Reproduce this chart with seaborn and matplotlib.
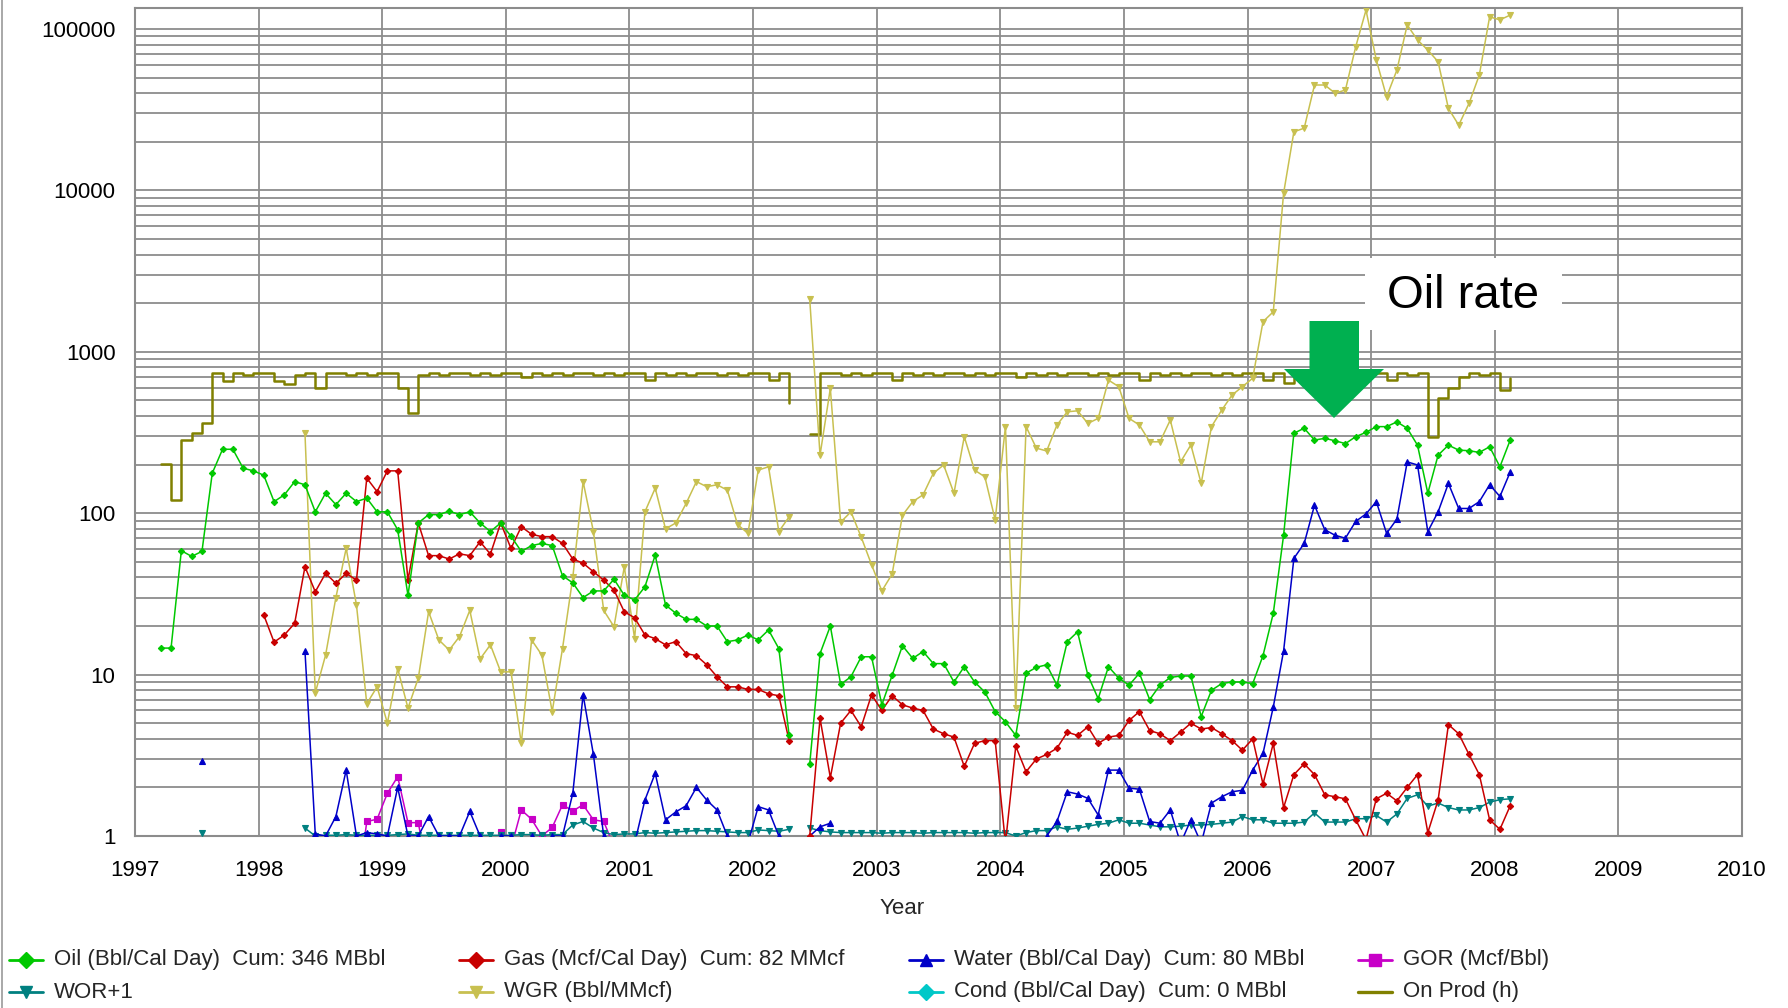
import numpy as np
import pandas as pd
import matplotlib
matplotlib.use("Agg")
import matplotlib.pyplot as plt
import seaborn as sns
from matplotlib.lines import Line2D
from matplotlib.patches import Polygon, Rectangle
from matplotlib.ticker import FixedLocator, FixedFormatter, NullFormatter, LogLocator

nan = np.nan

# One value per calendar month, Mar 1997 .. Feb 2008
months = pd.period_range("1997-03", "2008-02", freq="M")

oil_rate = [
    14.6, 14.6, 58.6, 54, 58, 177, 249, 249, 190, 183,                   # 1997
    172, 118, 130, 157, 150, 102, 133, 113, 133, 118, 124, 102,          # 1998
    102, 79, 31, 87, 98, 98, 103, 98, 102, 87, 77, 87,                   # 1999
    72, 58, 63, 65, 63, 41, 37, 30, 33, 33, 39, 31,                      # 2000
    29, 35, 55, 27, 24, 22, 22, 20, 20, 16, 16.4, 17.6,                  # 2001
    16.4, 18.9, 14.5, 4.2, nan, 2.8, 13.5, 20, 8.7, 9.7, 12.9, 12.9,     # 2002
    6.5, 9.9, 15.1, 12.6, 13.9, 11.7, 11.7, 9.0, 11.2, 9.0, 7.8, 5.9,    # 2003
    5.1, 4.2, 10.2, 11.1, 11.5, 8.6, 16, 18.4, 9.9, 7.1, 11.2, 9.5,      # 2004
    8.6, 10.2, 7.0, 8.6, 9.6, 9.8, 9.8, 5.5, 8.0, 8.8, 9.0, 9.0,         # 2005
    8.8, 13.1, 24, 73, 313, 336, 284, 291, 281, 270, 298, 317,           # 2006
    344, 344, 368, 336, 264, 133, 229, 264, 246, 244, 238, 258,          # 2007
    194, 284,                                                            # 2008
]

gas_rate = [
    nan, nan, nan, nan, nan, nan, nan, nan, nan, nan,
    23.4, 15.9, 17.6, 20.8, 46.6, 32.6, 42.4, 36.8, 42.4, 38.5, 165, 136,
    183, 183, 38.5, 87, 54.6, 54.6, 52, 56, 54.6, 66.5, 55.8, 87,
    60.5, 82.5, 74, 71.6, 71.6, 65, 52, 49, 43.4, 38.5, 33.4, 24.5,
    22.5, 17.6, 16.7, 15.3, 16, 13.5, 13.1, 11.5, 9.7, 8.4, 8.4, 8.1,
    8.1, 7.6, 7.4, 3.9, nan, 1.0, 5.35, 2.3, 5.0, 6.0, 4.75, 7.5,
    6.0, 7.4, 6.5, 6.2, 6.0, 4.6, 4.3, 4.1, 2.7, 3.75, 3.9, 3.9,
    0.9, 3.6, 2.5, 3.0, 3.2, 3.5, 4.4, 4.2, 4.75, 3.75, 4.1, 4.2,
    5.2, 5.9, 4.5, 4.3, 3.9, 4.4, 5.0, 4.6, 4.7, 4.3, 3.9, 3.4,
    4.0, 2.1, 3.75, 1.5, 2.4, 2.8, 2.4, 1.8, 1.75, 1.7, 1.26, 0.95,
    1.7, 1.84, 1.65, 2.0, 2.4, 1.05, 1.67, 4.9, 4.3, 3.2, 2.4, 1.26,
    1.1, 1.54,
]

water_rate = [
    nan, nan, nan, nan, 2.9, nan, nan, nan, nan, nan,
    nan, nan, nan, nan, 14, 1.03, 1.0, 1.32, 2.56, 1.0, 1.05, 1.03,
    1.0, 2.0, 1.0, 1.0, 1.32, 1.0, 1.0, 1.0, 1.42, 1.0, 0.95, 1.0,
    1.0, 0.95, 1.0, 0.9, 1.0, 1.0, 1.84, 7.5, 3.2, 1.0, 0.9, 0.9,
    0.9, 1.67, 2.45, 1.26, 1.41, 1.54, 2.0, 1.67, 1.45, 1.0, 0.9, 0.9,
    1.52, 1.45, 1.0, nan, nan, 1.0, 1.14, 1.2, nan, nan, nan, nan,
    nan, nan, nan, nan, nan, nan, nan, nan, nan, nan, nan, nan,
    nan, nan, nan, nan, 1.0, 1.23, 1.88, 1.82, 1.71, 1.35, 2.56, 2.56,
    1.98, 1.95, 1.23, 1.2, 1.45, 0.9, 1.26, 0.9, 1.6, 1.75, 1.88, 1.92,
    2.56, 3.25, 6.3, 14, 52.5, 65, 112, 79, 73, 70, 89, 99,
    118, 75, 92, 208, 199, 77, 102, 153, 107, 107, 118, 150,
    127, 180,
]

gor = [
    nan, nan, nan, nan, nan, nan, nan, nan, nan, nan,
    nan, nan, nan, nan, nan, nan, nan, nan, nan, 0.4, 1.23, 1.27,
    1.84, 2.33, 1.21, 1.21, 0.55, 0.56, 0.5, 0.57, 0.54, 0.76, 0.72, 1.06,
    0.84, 1.45, 1.27, 1.0, 1.13, 1.56, 1.43, 1.56, 1.26, 1.23, 0.86, 0.79,
    nan, nan, nan, nan, nan, nan, nan, nan, nan, nan, nan, nan,
    nan, nan, nan, nan, nan, nan, nan, nan, nan, nan, nan, nan,
    nan, nan, nan, nan, nan, nan, nan, nan, nan, nan, nan, nan,
    nan, nan, nan, nan, nan, nan, nan, nan, nan, nan, nan, nan,
    nan, nan, nan, nan, nan, nan, nan, nan, nan, nan, nan, nan,
    nan, nan, nan, nan, nan, nan, nan, nan, nan, nan, nan, nan,
    nan, nan, nan, nan, nan, nan, nan, nan, nan, nan, nan, nan,
    nan, nan,
]

wor_plus_1 = [
    nan, nan, nan, nan, 1.05, nan, nan, nan, nan, nan,
    nan, nan, nan, nan, 1.12, 1.0, 1.01, 1.01, 1.02, 1.01, 1.01, 1.01,
    1.01, 1.02, 1.03, 1.01, 1.01, 1.01, 1.01, 1.01, 1.01, 1.01, 1.01, 1.01,
    1.01, 1.02, 1.02, 1.01, 1.02, 1.02, 1.17, 1.23, 1.12, 1.05, 1.02, 1.03,
    1.03, 1.05, 1.04, 1.05, 1.06, 1.07, 1.08, 1.08, 1.07, 1.06, 1.05, 1.05,
    1.09, 1.08, 1.07, 1.1, nan, 1.12, 1.08, 1.06, 1.05, 1.05, 1.05, 1.05,
    1.04, 1.05, 1.05, 1.05, 1.04, 1.05, 1.05, 1.05, 1.05, 1.04, 1.05, 1.05,
    1.05, 1.0, 1.05, 1.08, 1.08, 1.14, 1.1, 1.12, 1.15, 1.18, 1.2, 1.26,
    1.2, 1.2, 1.17, 1.14, 1.14, 1.15, 1.17, 1.17, 1.18, 1.2, 1.22, 1.32,
    1.26, 1.26, 1.2, 1.2, 1.2, 1.22, 1.39, 1.22, 1.22, 1.22, 1.28, 1.28,
    1.34, 1.22, 1.37, 1.71, 1.8, 1.53, 1.6, 1.5, 1.45, 1.45, 1.5, 1.62,
    1.68, 1.7,
]

wgr = [
    nan, nan, nan, nan, nan, nan, nan, nan, nan, nan,
    nan, nan, nan, nan, 313, 7.7, 13.2, 30, 60.6, 27, 6.6, 8.4,
    5.0, 10.9, 6.2, 9.5, 24.5, 16.4, 14.2, 17.2, 25, 12.5, 15.3, 10.4,
    10.4, 3.75, 16.4, 13.2, 5.9, 14.5, 40, 157, 77, 25, 19.8, 46.6,
    16.7, 102, 143, 80, 87, 115, 157, 146, 150, 139, 85, 75,
    185, 194, 77, 95, nan, 2115, 229, 594, 88, 102, 71, 48,
    33, 42, 97, 118, 130, 177, 199, 133, 298, 185, 168, 91,
    344, 6.2, 344, 253, 243, 352, 425, 431, 360, 387, 668, 608,
    387, 352, 277, 277, 378, 208, 265, 153, 344, 436, 540, 608,
    686, 1537, 1771, 9600, 23100, 24300, 45000, 45000, 40000, 41900, 77600, 131000,
    64300, 38000, 55700, 106000, 85500, 74100, 62700, 32200, 25400, 34600, 51900, 119000,
    114000, 122000,
]

on_prod_hours = [
    201, 121, 284, 313, 361, 744, 660, 744, 720, 744,
    744, 660, 630, 720, 744, 600, 744, 744, 720, 744, 720, 744,
    744, 597, 416, 720, 744, 720, 744, 744, 720, 744, 720, 744,
    744, 696, 744, 720, 744, 720, 744, 744, 720, 744, 720, 744,
    744, 672, 744, 720, 744, 720, 744, 744, 720, 744, 720, 744,
    744, 672, 744, 482, nan, 310, 744, 744, 720, 744, 720, 744,
    744, 672, 744, 720, 744, 720, 744, 744, 720, 744, 720, 744,
    744, 696, 744, 720, 744, 720, 744, 744, 720, 744, 720, 744,
    744, 672, 744, 720, 744, 720, 744, 744, 720, 744, 720, 744,
    744, 672, 744, 638, 744, 720, 744, 744, 720, 744, 720, 744,
    744, 672, 744, 720, 744, 298, 515, 594, 701, 744, 720, 744,
    580, 690,
]

year_ticks = list(range(1997, 2011))
value_ticks = [1, 10, 100, 1000, 10000, 100000]
value_tick_labels = ["1", "10", "100", "1000", "10000", "100000"]

legend_items = [
    ("Oil (Bbl/Cal Day)  Cum: 346 MBbl", "#00C800", "D"),
    ("WOR+1", "#008080", "v"),
    ("Gas (Mcf/Cal Day)  Cum: 82 MMcf", "#C80000", "D"),
    ("WGR (Bbl/MMcf)", "#C8C050", "v"),
    ("Water (Bbl/Cal Day)  Cum: 80 MBbl", "#0000C8", "^"),
    ("Cond (Bbl/Cal Day)  Cum: 0 MBbl", "#00C8C8", "D"),
    ("GOR (Mcf/Bbl)", "#C800C8", "s"),
    ("On Prod (h)", "#808000", None),
]

sns.set_style("white")
plt.rcParams["font.family"] = ["Liberation Sans", "DejaVu Sans"]

W, H = 1788, 1008
fig = plt.figure(figsize=(W / 100, H / 100), dpi=100)
fig.patch.set_facecolor("white")


def fx(px):
    return px / W


def fy(py):
    return 1 - py / H


ax = fig.add_axes([fx(135), fy(836), (1742 - 135) / W, (836 - 8) / H])
ax.set_yscale("log")

year_pos = np.asarray(months.year + (months.month - 0.5) / 12, dtype=float)


def draw_series(values, color, marker=None, ms=4.0, lw=1.1, z=2, **extra):
    df = pd.DataFrame({"year": year_pos, "value": np.asarray(values, dtype=float)})
    gap = df["value"].isna()
    df["run"] = gap.ne(gap.shift()).cumsum()
    df = df[~gap]
    kws = dict(color=color, linewidth=lw, zorder=z)
    if marker:
        kws.update(marker=marker, markersize=ms, markeredgecolor=color,
                   markerfacecolor=color, markeredgewidth=0.8)
    sns.lineplot(data=df, x="year", y="value", units="run", estimator=None,
                 ax=ax, legend=False, **kws, **extra)


draw_series(on_prod_hours, "#808000", lw=1.8, drawstyle="steps-post", z=2)
draw_series(wgr, "#C8C050", "v", ms=4, lw=1.1, z=3)
draw_series(gor, "#C800C8", "s", ms=4, lw=1.1, z=3)
draw_series(wor_plus_1, "#008080", "v", ms=4, lw=1.1, z=4)
draw_series(water_rate, "#0000C8", "^", ms=4, lw=1.1, z=4)
draw_series(gas_rate, "#C80000", "D", ms=3.2, lw=1.1, z=5)
draw_series(oil_rate, "#00C800", "D", ms=3.2, lw=1.1, z=6)

ax.set_xlim(1997, 2010)
ax.set_ylim(1, 1.35e5)
ax.set_xlabel("")
ax.set_ylabel("")

ax.xaxis.set_major_locator(FixedLocator(year_ticks))
ax.xaxis.set_major_formatter(FixedFormatter([str(y) for y in year_ticks]))
ax.yaxis.set_major_locator(FixedLocator(value_ticks))
ax.yaxis.set_major_formatter(FixedFormatter(value_tick_labels))
ax.yaxis.set_minor_locator(LogLocator(base=10, subs=np.arange(2, 10), numticks=20))
ax.yaxis.set_minor_formatter(NullFormatter())

grid_color = "#8c8c8c"
ax.set_axisbelow(True)
ax.grid(True, which="major", axis="both", color=grid_color, linewidth=1.3)
ax.grid(True, which="minor", axis="y", color=grid_color, linewidth=1.3)
ax.tick_params(axis="both", which="both", length=0)
ax.tick_params(axis="x", pad=17, labelsize=16, colors="black")
ax.tick_params(axis="y", pad=14, labelsize=16, colors="black")
for spine in ax.spines.values():
    spine.set_visible(True)
    spine.set_color(grid_color)
    spine.set_linewidth(1.5)

fig.text(fx(902), fy(909), "Year", ha="center", va="center", fontsize=16)

# Legend drawn as two rows of four fixed-width columns
col_centers = [26, 476, 926, 1375]
row_y = [960, 992]
for k, (label, color, marker) in enumerate(legend_items):
    col, row = divmod(k, 2)
    cx, cy = col_centers[col], row_y[row]
    lw = 2.0 if marker else 2.4
    fig.add_artist(Line2D([fx(cx - 17), fx(cx + 17)], [fy(cy), fy(cy)],
                          color=color, linewidth=lw, transform=fig.transFigure))
    if marker:
        fig.add_artist(Line2D([fx(cx)], [fy(cy)], color=color, marker=marker,
                              markersize=8, markeredgecolor=color,
                              markerfacecolor=color, linestyle="none",
                              transform=fig.transFigure))
    fig.text(fx(cx + 28), fy(cy), label, ha="left", va="center", fontsize=16)

# Left edge rule of the figure
fig.add_artist(Line2D([fx(2), fx(2)], [0, 1], color="#9a9a9a", linewidth=1.2,
                      transform=fig.transFigure))

# "Oil rate" callout with a block arrow
fig.add_artist(Rectangle((fx(1365), fy(330)), (1562 - 1365) / W, (330 - 258) / H,
                         transform=fig.transFigure, facecolor="white",
                         edgecolor="none", zorder=3))
fig.text(fx(1463), fy(296), "Oil rate", ha="center", va="center",
         fontsize=34, color="black", zorder=4)
arrow_px = [(1309.5, 321), (1359, 321), (1359, 369), (1384, 369),
            (1334, 418), (1284, 369), (1309.5, 369)]
fig.add_artist(Polygon([(fx(x), fy(y)) for x, y in arrow_px], closed=True,
                       transform=fig.transFigure, facecolor="#00B050",
                       edgecolor="none", zorder=4))

fig.savefig("out.png", dpi=100, facecolor="white")
